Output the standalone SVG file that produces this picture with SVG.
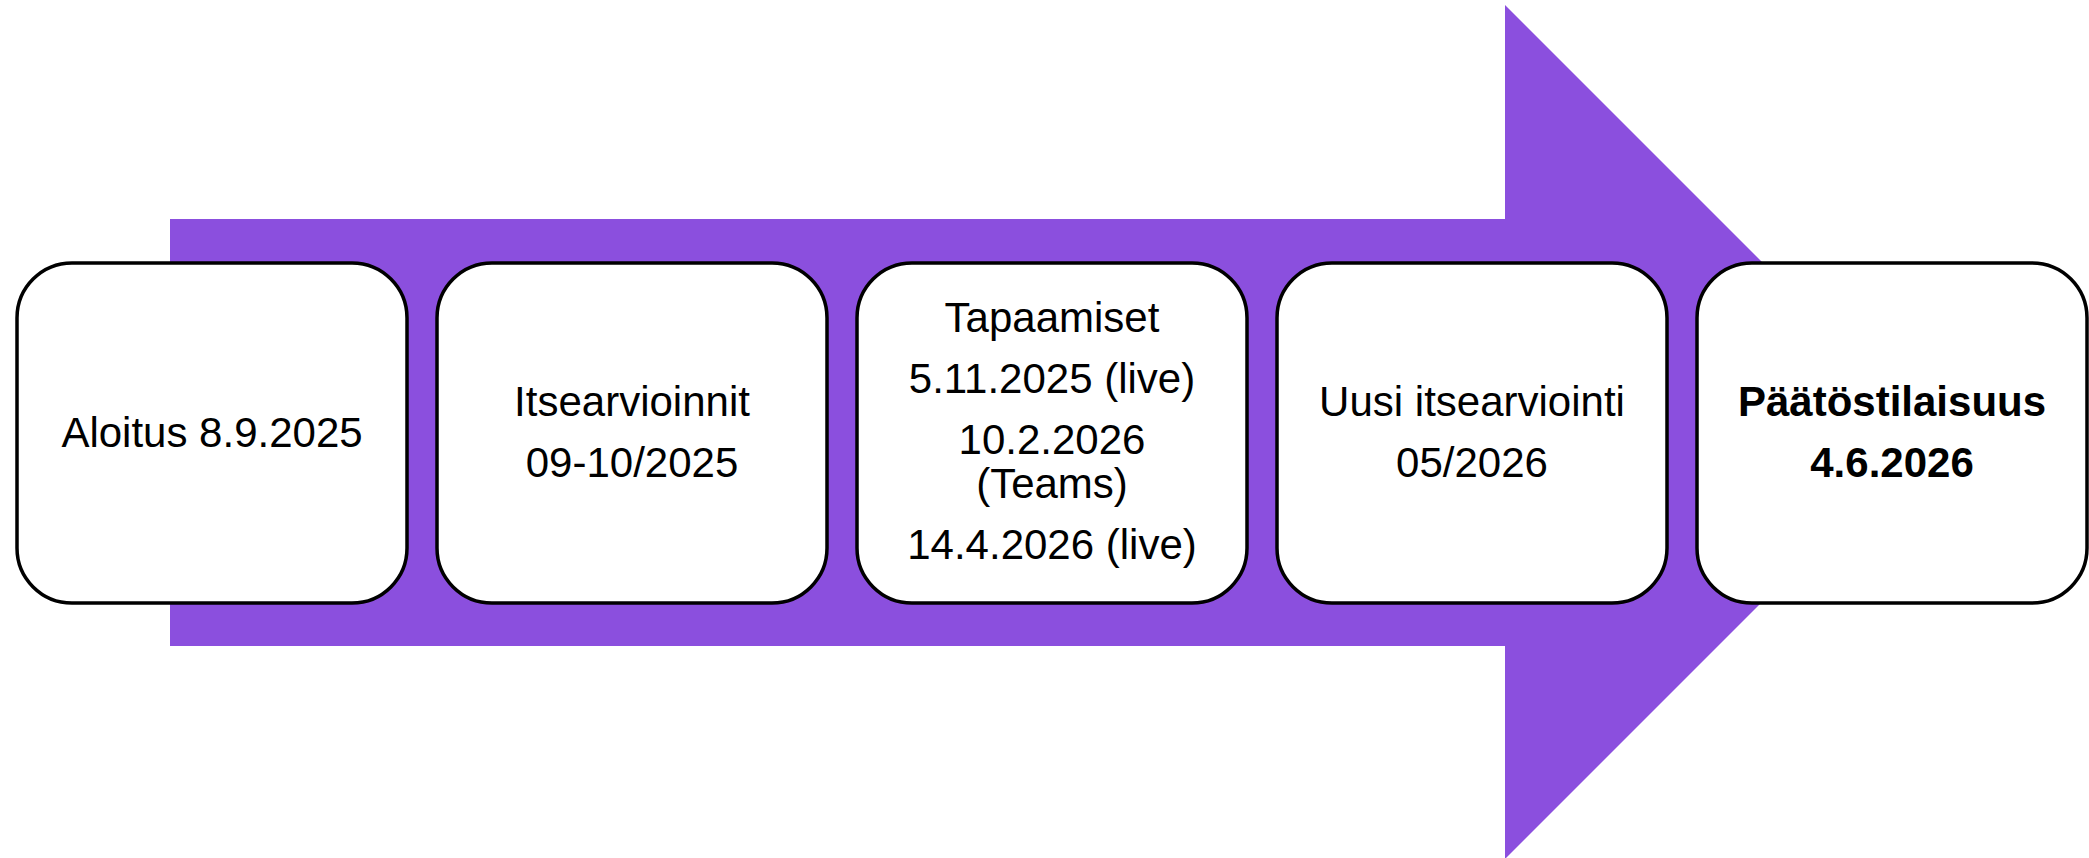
<svg xmlns="http://www.w3.org/2000/svg" width="2089" height="858" viewBox="0 0 2089 858">
<style>
.box{fill:#ffffff;stroke:#000000;stroke-width:3.5}
.t{font-family:"Liberation Sans",Arial,sans-serif;font-size:42px;fill:#000000;text-anchor:middle}
.b{font-weight:bold}
</style>
<rect width="2089" height="858" fill="#ffffff"/>
<g id="connectors">
<polygon points="170,219 1505,219 1505,5 1932,432 1505,859 1505,646 170,646" fill="#8B4FDE"/>
</g>
<g id="n1">
<rect class="box" x="17" y="263" width="390" height="340" rx="55" ry="55"/>
<text class="t" x="212" y="447">Aloitus 8.9.2025</text>
</g>
<g id="n2">
<rect class="box" x="437" y="263" width="390" height="340" rx="55" ry="55"/>
<text class="t" x="632" y="416">Itsearvioinnit</text>
<text class="t" x="632" y="477">09-10/2025</text>
</g>
<g id="n3">
<rect class="box" x="857" y="263" width="390" height="340" rx="55" ry="55"/>
<text class="t" x="1052" y="332">Tapaamiset</text>
<text class="t" x="1052" y="393">5.11.2025 (live)</text>
<text class="t" x="1052" y="454">10.2.2026</text>
<text class="t" x="1052" y="498">(Teams)</text>
<text class="t" x="1052" y="559">14.4.2026 (live)</text>
</g>
<g id="n4">
<rect class="box" x="1277" y="263" width="390" height="340" rx="55" ry="55"/>
<text class="t" x="1472" y="416">Uusi itsearviointi</text>
<text class="t" x="1472" y="477">05/2026</text>
</g>
<g id="n5">
<rect class="box" x="1697" y="263" width="390" height="340" rx="55" ry="55"/>
<text class="t b" x="1892" y="416">Päätöstilaisuus</text>
<text class="t b" x="1892" y="477">4.6.2026</text>
</g>
</svg>
